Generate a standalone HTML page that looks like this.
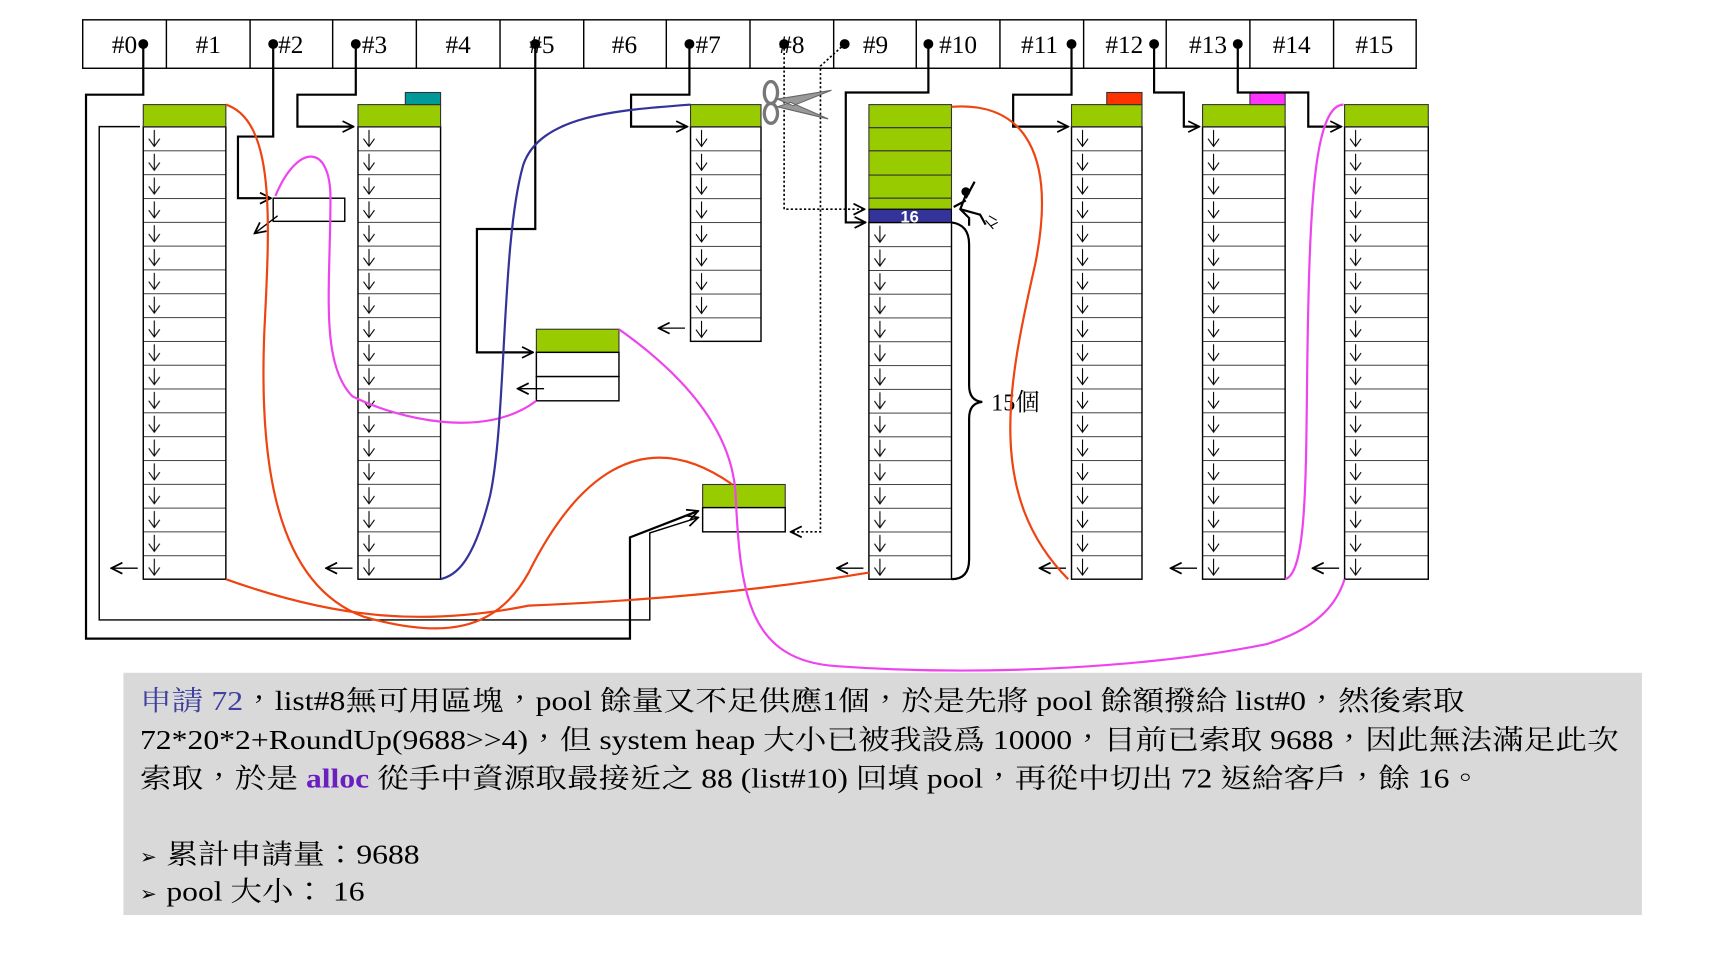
<!DOCTYPE html>
<html><head><meta charset="utf-8"><style>
html,body{margin:0;padding:0;background:#fff;}
svg{display:block;}
.t{font-family:"Liberation Serif","Noto Serif CJK TC","Noto Serif CJK SC",serif;}
</style></head><body>
<svg width="1718" height="980" viewBox="0 0 1560 890" xmlns="http://www.w3.org/2000/svg">
<defs>
<marker id="ah" viewBox="0 0 12 12" refX="11" refY="6" markerWidth="12" markerHeight="12" markerUnits="userSpaceOnUse" orient="auto"><path d="M1,1 L11,6 L1,11" fill="none" stroke="#000" stroke-width="1.6"/></marker>
<g id="row"><rect x="0" y="0" width="76" height="21.6" fill="#fff"/><line x1="0" y1="0" x2="76" y2="0" stroke="#000" stroke-width="1.3"/><line x1="10" y1="3" x2="10" y2="17" stroke="#000" stroke-width="1"/><path d="M5,11 L10,18 L15,11" fill="none" stroke="#000" stroke-width="1"/></g>
<pattern id="p0" patternUnits="userSpaceOnUse" x="130" y="115" width="200" height="21.63"><use href="#row"/></pattern>
<pattern id="p3" patternUnits="userSpaceOnUse" x="325" y="115" width="200" height="21.63"><use href="#row"/></pattern>
<pattern id="p7" patternUnits="userSpaceOnUse" x="627" y="115" width="200" height="21.67"><use href="#row"/></pattern>
<pattern id="p10" patternUnits="userSpaceOnUse" x="789" y="202" width="200" height="21.6"><use href="#row"/></pattern>
<pattern id="p11" patternUnits="userSpaceOnUse" x="973" y="115" width="200" height="21.63"><use href="#row"/></pattern>
<pattern id="p13" patternUnits="userSpaceOnUse" x="1092" y="115" width="200" height="21.63"><use href="#row"/></pattern>
<pattern id="p15" patternUnits="userSpaceOnUse" x="1221" y="115" width="200" height="21.63"><use href="#row"/></pattern>
</defs>

<!-- header -->
<rect x="75" y="18" width="1211" height="44" fill="#fff" stroke="#000" stroke-width="1.3"/>
<g stroke="#000" stroke-width="1.3">
<line x1="151" y1="18" x2="151" y2="62"/><line x1="227" y1="18" x2="227" y2="62"/><line x1="302" y1="18" x2="302" y2="62"/><line x1="378" y1="18" x2="378" y2="62"/><line x1="454" y1="18" x2="454" y2="62"/><line x1="530" y1="18" x2="530" y2="62"/><line x1="605" y1="18" x2="605" y2="62"/><line x1="681" y1="18" x2="681" y2="62"/><line x1="757" y1="18" x2="757" y2="62"/><line x1="832" y1="18" x2="832" y2="62"/><line x1="908" y1="18" x2="908" y2="62"/><line x1="984" y1="18" x2="984" y2="62"/><line x1="1059" y1="18" x2="1059" y2="62"/><line x1="1135" y1="18" x2="1135" y2="62"/><line x1="1211" y1="18" x2="1211" y2="62"/>
</g>
<g class="t" font-size="23" text-anchor="middle" fill="#000">
<text x="113" y="48">#0</text><text x="189" y="48">#1</text><text x="264" y="48">#2</text><text x="340" y="48">#3</text><text x="416" y="48">#4</text><text x="492" y="48">#5</text><text x="567" y="48">#6</text><text x="643" y="48">#7</text><text x="719" y="48">#8</text><text x="795" y="48">#9</text><text x="870" y="48">#10</text><text x="944" y="48">#11</text><text x="1021" y="48">#12</text><text x="1097" y="48">#13</text><text x="1173" y="48">#14</text><text x="1248" y="48">#15</text>
</g>

<!-- columns -->
<g stroke="#000" stroke-width="1.3">
<rect x="130" y="115" width="75" height="411" fill="url(#p0)"/>
<rect x="325" y="115" width="75" height="411" fill="url(#p3)"/>
<rect x="627" y="115" width="64" height="195" fill="url(#p7)"/>
<rect x="789" y="202" width="75" height="324" fill="url(#p10)"/>
<rect x="973" y="115" width="64" height="411" fill="url(#p11)"/>
<rect x="1092" y="115" width="75" height="411" fill="url(#p13)"/>
<rect x="1221" y="115" width="76" height="411" fill="url(#p15)"/>
</g>
<g fill="#99cc00" stroke="#333" stroke-width="1">
<rect x="130" y="95" width="75" height="20"/>
<rect x="325" y="95" width="75" height="20"/>
<rect x="627" y="95" width="64" height="20"/>
<rect x="789" y="95" width="75" height="21"/><rect x="789" y="116" width="75" height="21"/><rect x="789" y="137" width="75" height="22"/><rect x="789" y="159" width="75" height="21"/><rect x="789" y="180" width="75" height="10"/>
<rect x="973" y="95" width="64" height="20"/>
<rect x="1092" y="95" width="75" height="20"/>
<rect x="1221" y="95" width="76" height="20"/>
<rect x="487" y="299" width="75" height="21"/>
<rect x="638" y="440" width="75" height="21"/>
</g>
<rect x="789" y="190" width="75" height="12" fill="#333399" stroke="#000"/>
<text x="826" y="202" font-family="Liberation Sans,sans-serif" font-weight="bold" font-size="15" fill="#fff" text-anchor="middle">16</text>
<rect x="368" y="84" width="32" height="11" fill="#009999" stroke="#333"/>
<rect x="1005" y="84" width="32" height="11" fill="#ff3300" stroke="#333"/>
<rect x="1135" y="84" width="32" height="11" fill="#ff33ff" stroke="#333"/>
<g fill="#fff" stroke="#000" stroke-width="1.3">
<rect x="248" y="180" width="65" height="21"/>
<rect x="487" y="320" width="75" height="22"/><rect x="487" y="342" width="75" height="22"/>
<rect x="638" y="461" width="75" height="22"/>
</g>

<!-- dots -->
<g fill="#000">
<circle cx="130" cy="40" r="4.5"/><circle cx="248" cy="40" r="4.5"/><circle cx="323" cy="40" r="4.5"/><circle cx="486" cy="40" r="4.5"/><circle cx="626" cy="40" r="4.5"/><circle cx="712" cy="40" r="4.5"/><circle cx="767" cy="40" r="4.5"/><circle cx="843" cy="40" r="4.5"/><circle cx="973" cy="40" r="4.5"/><circle cx="1048" cy="40" r="4.5"/><circle cx="1124" cy="40" r="4.5"/>
</g>

<!-- black connectors -->
<g fill="none" stroke="#000" stroke-width="2">
<polyline points="130,40 130,86 78,86 78,580 572,580 572,488 634,464" marker-end="url(#ah)"/>
<polyline points="127,115 90,115 90,563 590,563 590,484 634,470" stroke-width="1.3" marker-end="url(#ah)"/>
<polyline points="248,40 248,124 216,124 216,180 246,180" marker-end="url(#ah)"/>
<polyline points="323,40 323,86 270,86 270,115 321,115" marker-end="url(#ah)"/>
<polyline points="486,40 486,208 433,208 433,320 484,320" marker-end="url(#ah)"/>
<polyline points="626,40 626,86 573,86 573,115 624,115" marker-end="url(#ah)"/>
<polyline points="843,40 843,84 768,84 768,202 786,202" marker-end="url(#ah)"/>
<polyline points="973,40 973,86 920,86 920,115 970,115" marker-end="url(#ah)"/>
<polyline points="1048,40 1048,84 1075,84 1075,115 1089,115" marker-end="url(#ah)"/>
<polyline points="1124,40 1124,84 1188,84 1188,115 1218,115" marker-end="url(#ah)"/>
</g>
<g fill="none" stroke="#000" stroke-width="1.2" marker-end="url(#ah)">
<line x1="252" y1="196" x2="231" y2="212"/>
<line x1="125" y1="516" x2="101" y2="516"/>
<line x1="320" y1="516" x2="296" y2="516"/>
<line x1="622" y1="298" x2="598" y2="298"/>
<line x1="494" y1="353" x2="470" y2="353"/>
<line x1="784" y1="516" x2="760" y2="516"/>
<line x1="968" y1="516" x2="944" y2="516"/>
<line x1="1087" y1="516" x2="1063" y2="516"/>
<line x1="1216" y1="516" x2="1192" y2="516"/>
</g>
<!-- dotted -->
<g fill="none" stroke="#000" stroke-width="1.5" stroke-dasharray="2,2">
<polyline points="712,40 712,190 785,190" marker-end="url(#ah)"/>
<polyline points="767,40 745,60 745,483 718,483" marker-end="url(#ah)"/>
</g>
<!-- brace -->
<path d="M864,202 Q880,204 880,222 L880,350 Q880,364 892,365 Q880,366 880,380 L880,508 Q880,526 864,526" fill="none" stroke="#000" stroke-width="2"/>
<text class="t" x="900" y="373" font-size="22">15個</text>

<!-- curves -->
<g fill="none" stroke-width="2">
<path d="M205,95 C250,110 245,200 240,300 C235,420 250,530 330,560 C400,580 450,575 480,520 C520,440 580,380 665,440" stroke="#ee4411"/>
<path d="M205,526 C300,560 380,570 480,550 C600,545 700,535 789,520" stroke="#ee4411"/>
<path d="M864,97 C930,92 960,140 940,240 C915,350 895,450 970,526" stroke="#ee4411"/>
<path d="M487,364 C440,400 360,380 320,360 C290,330 300,260 300,180 C300,130 270,130 250,178" stroke="#ee44ee"/>
<path d="M562,299 C620,340 665,390 668,450 C672,540 680,600 760,605 C900,615 1050,605 1150,585 C1200,570 1215,545 1221,526" stroke="#ee44ee"/>
<path d="M1167,526 C1190,520 1185,400 1188,280 C1190,180 1195,95 1220,95" stroke="#ee44ee"/>
<path d="M627,95 C560,100 490,105 475,150 C455,220 460,380 445,450 C430,510 415,522 400,526" stroke="#333399"/>
</g>

<!-- scissors -->
<g fill="none" stroke="#777" stroke-width="3">
<ellipse cx="700" cy="84" rx="6" ry="10"/>
<ellipse cx="700" cy="103" rx="6" ry="9"/>
</g>
<path d="M706,90 L755,82 L720,96 Z M706,97 L752,108 L718,93 Z" fill="#999" stroke="#666"/>
<!-- stick figure -->
<g fill="none" stroke="#000" stroke-width="2">
<circle cx="877" cy="174" r="3" fill="#000"/>
<path d="M877,177 L872,190 L880,198 L880,205 M872,190 L890,195 L895,204 M877,180 L885,165 M877,182 L866,188"/>
<path d="M898,196 L905,200 M900,205 L906,202 M895,200 L902,208" stroke-width="1"/>
</g>

<!-- text box -->
<rect x="112" y="611" width="1379" height="220" fill="#d9d9d9"/>
<g class="t" font-size="25" fill="#000">
<text x="127" y="645" textLength="1203" lengthAdjust="spacingAndGlyphs"><tspan fill="#4040a0">申請 72</tspan>，list#8無可用區塊，pool 餘量又不足供應1個，於是先將 pool 餘額撥給 list#0，然後索取</text>
<text x="127" y="680" textLength="1343" lengthAdjust="spacingAndGlyphs">72*20*2+RoundUp(9688&gt;&gt;4)，但 system heap 大小已被我設爲 10000，目前已索取 9688，因此無法滿足此次</text>
<text x="127" y="715" textLength="1218" lengthAdjust="spacingAndGlyphs">索取，於是 <tspan fill="#6a1fc0" font-weight="bold">alloc</tspan> 從手中資源取最接近之 88 (list#10) 回填 pool，再從中切出 72 返給客戶，餘 16。</text>
<text x="127" y="784" font-size="18">➢</text><text x="151" y="784" textLength="230" lengthAdjust="spacingAndGlyphs">累計申請量：9688</text>
<text x="127" y="818" font-size="18">➢</text><text x="151" y="818" textLength="180" lengthAdjust="spacingAndGlyphs">pool 大小： 16</text>
</g>
</svg>
</body></html>
